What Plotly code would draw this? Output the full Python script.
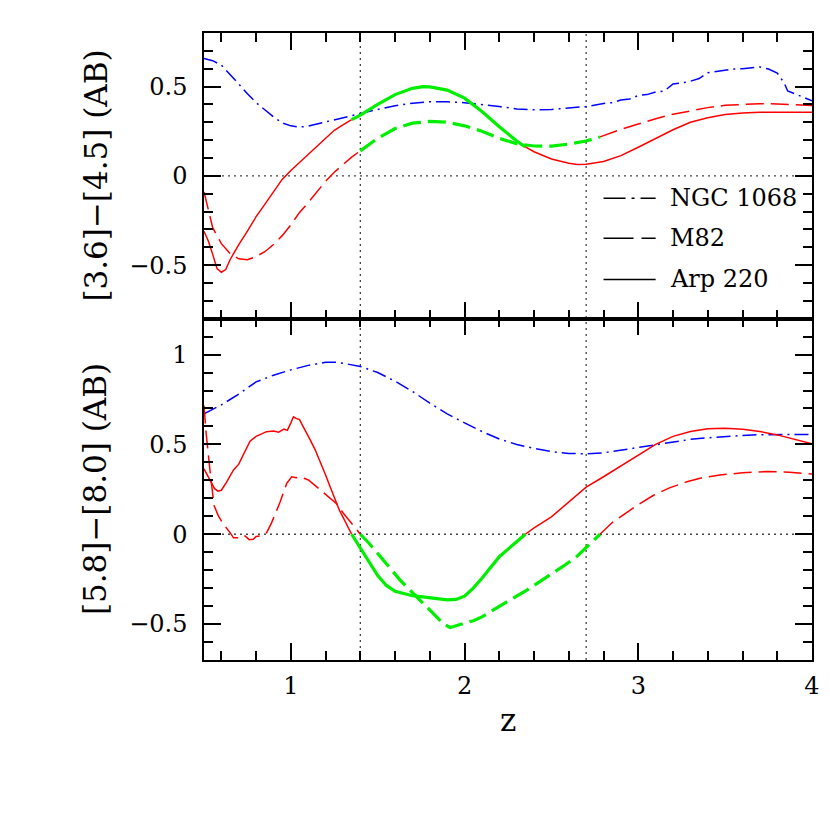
"""Couleurs IRAC en fonction du redshift pour trois galaxies modeles"""
import plotly.graph_objects as go
from plotly.subplots import make_subplots

# ---- panneau du haut : [3.6]-[4.5] ----
z_ngc_top = [0.5, 0.55, 0.6, 0.65, 0.7, 0.75, 0.8, 0.85, 0.9, 0.95, 1.0, 1.05, 1.1, 1.15, 1.2,
             1.3, 1.4, 1.5, 1.6, 1.7, 1.8, 1.9, 2.0, 2.1, 2.2, 2.3, 2.4, 2.5, 2.6, 2.7, 2.8,
             2.85, 2.9, 2.95, 3.0, 3.05, 3.1, 3.15, 3.2, 3.25, 3.3, 3.35, 3.4, 3.45, 3.5,
             3.55, 3.6, 3.65, 3.7, 3.75, 3.8, 3.84, 3.86, 3.9, 3.95, 4.0]
ngc_top = [0.658, 0.645, 0.62, 0.57, 0.515, 0.46, 0.41, 0.37, 0.33, 0.297, 0.28, 0.273, 0.278,
           0.29, 0.302, 0.325, 0.35, 0.372, 0.392, 0.407, 0.415, 0.415, 0.41, 0.4, 0.388,
           0.375, 0.37, 0.372, 0.378, 0.388, 0.405, 0.41, 0.425, 0.43, 0.45, 0.455, 0.47,
           0.475, 0.515, 0.52, 0.53, 0.545, 0.578, 0.585, 0.595, 0.598, 0.6, 0.605, 0.61,
           0.598, 0.576, 0.52, 0.475, 0.46, 0.44, 0.42]

z_m82_top = [0.5, 0.525, 0.55, 0.6, 0.65, 0.7, 0.75, 0.8, 0.85, 0.9, 0.95, 1.0, 1.05, 1.1, 1.15,
             1.2, 1.25, 1.3, 1.35, 1.4, 1.5, 1.6, 1.7, 1.8, 1.9, 2.0, 2.1, 2.2, 2.3, 2.4, 2.5,
             2.6, 2.7, 2.78, 2.9, 3.0, 3.1, 3.2, 3.3, 3.4, 3.5, 3.6, 3.7, 3.8, 3.9, 4.0]
m82_top = [-0.09, -0.19, -0.29, -0.38, -0.435, -0.465, -0.47, -0.452, -0.425, -0.385, -0.335,
           -0.275, -0.205, -0.15, -0.09, -0.03, 0.02, 0.065, 0.105, 0.14, 0.21, 0.265, 0.295,
           0.305, 0.3, 0.28, 0.25, 0.21, 0.18, 0.167, 0.166, 0.178, 0.195, 0.218, 0.26, 0.29,
           0.32, 0.345, 0.365, 0.382, 0.395, 0.401, 0.404, 0.403, 0.399, 0.394]

z_arp_top = [0.5, 0.525, 0.55, 0.575, 0.6, 0.625, 0.65, 0.7, 0.75, 0.8, 0.85, 0.9, 0.95, 1.0,
             1.05, 1.1, 1.15, 1.2, 1.25, 1.3, 1.35, 1.4, 1.5, 1.6, 1.7, 1.76, 1.8, 1.9, 2.0,
             2.1, 2.2, 2.3, 2.35, 2.4, 2.5, 2.6, 2.65, 2.7, 2.8, 2.9, 3.0, 3.1, 3.2, 3.3, 3.4,
             3.5, 3.6, 3.7, 3.8, 3.9, 4.0]
arp_top = [-0.31, -0.365, -0.44, -0.52, -0.54, -0.525, -0.47, -0.385, -0.31, -0.228, -0.16,
           -0.092, -0.02, 0.03, 0.075, 0.12, 0.165, 0.215, 0.255, 0.285, 0.315, 0.34, 0.4,
           0.455, 0.49, 0.5, 0.498, 0.48, 0.435, 0.36, 0.275, 0.195, 0.162, 0.135, 0.094,
           0.07, 0.064, 0.065, 0.08, 0.113, 0.16, 0.21, 0.258, 0.3, 0.325, 0.343, 0.352,
           0.356, 0.357, 0.357, 0.356]

# ---- panneau du bas : [5.8]-[8.0] ----
z_ngc_bot = [0.5, 0.6, 0.7, 0.8, 0.9, 1.0, 1.1, 1.2, 1.25, 1.3, 1.4, 1.5, 1.6, 1.7, 1.8, 1.9,
             2.0, 2.1, 2.2, 2.3, 2.4, 2.5, 2.6, 2.7, 2.8, 2.9, 3.0, 3.1, 3.2, 3.3, 3.4, 3.5,
             3.6, 3.7, 3.8, 3.9, 4.0]
ngc_bot = [0.67, 0.72, 0.78, 0.848, 0.885, 0.915, 0.94, 0.957, 0.958, 0.952, 0.934, 0.9,
           0.852, 0.795, 0.73, 0.67, 0.62, 0.572, 0.53, 0.5, 0.478, 0.46, 0.45, 0.447, 0.453,
           0.468, 0.484, 0.502, 0.517, 0.528, 0.537, 0.545, 0.55, 0.554, 0.556, 0.556, 0.556]

z_m82_bot = [0.5, 0.512, 0.535, 0.558, 0.582, 0.611, 0.65, 0.67, 0.7, 0.72, 0.736, 0.76, 0.784,
             0.8, 0.823, 0.861, 0.89, 0.938, 0.976, 1.005, 1.03, 1.053, 1.08, 1.101, 1.149,
             1.207, 1.263, 1.3, 1.35, 1.4, 1.45, 1.514, 1.57, 1.629, 1.69, 1.744, 1.8, 1.84,
             1.88, 1.917, 1.95, 2.0, 2.051, 2.1, 2.205, 2.28, 2.359, 2.44, 2.512, 2.58, 2.647,
             2.71, 2.78, 2.85, 2.935, 3.0, 3.088, 3.18, 3.28, 3.37, 3.47, 3.6, 3.741, 3.87, 4.0]
m82_bot = [0.716, 0.566, 0.349, 0.16, 0.104, 0.057, 0.009, -0.02, -0.019, -0.005, -0.01, -0.03,
           -0.028, -0.012, -0.01, 0.009, 0.066, 0.179, 0.283, 0.32, 0.315, 0.32, 0.31, 0.302,
           0.264, 0.217, 0.17, 0.12, 0.06, 0.0, -0.05, -0.123, -0.19, -0.255, -0.315, -0.368,
           -0.42, -0.462, -0.5, -0.519, -0.51, -0.495, -0.481, -0.46, -0.396, -0.355, -0.311,
           -0.26, -0.217, -0.17, -0.123, -0.065, 0.0, 0.065, 0.122, 0.165, 0.217, 0.258,
           0.292, 0.315, 0.33, 0.342, 0.349, 0.345, 0.336]

z_arp_bot = [0.5, 0.52, 0.54, 0.56, 0.58, 0.6, 0.63, 0.67, 0.7, 0.73, 0.765, 0.8, 0.83, 0.86,
             0.9, 0.93, 0.96, 0.98, 1.0, 1.015, 1.03, 1.05, 1.07, 1.09, 1.11, 1.14, 1.17, 1.2,
             1.23, 1.26, 1.28, 1.3, 1.33, 1.35, 1.4, 1.45, 1.5, 1.55, 1.6, 1.7, 1.8, 1.9, 1.95,
             2.0, 2.05, 2.1, 2.2, 2.3, 2.35, 2.4, 2.5, 2.6, 2.7, 2.8, 2.9, 3.0, 3.1, 3.2, 3.3,
             3.4, 3.5, 3.6, 3.7, 3.8, 3.9, 4.0]
arp_bot = [0.364, 0.33, 0.29, 0.255, 0.24, 0.245, 0.29, 0.358, 0.39, 0.45, 0.518, 0.545, 0.56,
           0.571, 0.575, 0.568, 0.585, 0.578, 0.62, 0.654, 0.645, 0.638, 0.6, 0.56, 0.528,
           0.47, 0.405, 0.33, 0.255, 0.18, 0.132, 0.095, 0.04, 0.0, -0.075, -0.15, -0.23,
           -0.285, -0.318, -0.342, -0.355, -0.365, -0.363, -0.345, -0.3, -0.245, -0.125,
           -0.04, 0.0, 0.035, 0.097, 0.18, 0.262, 0.32, 0.38, 0.44, 0.5, 0.545, 0.572,
           0.587, 0.59, 0.584, 0.572, 0.553, 0.53, 0.504]

# intervalle ou [5.8]-[8.0] < 0 (trace en vert)
green_arp = (1.35, 2.35)
green_m82 = (1.4, 2.78)

legend_names = ["NGC 1068", "M82", "Arp 220"]
legend_y = [-0.125, -0.35, -0.58]

for zz, yy in [(z_ngc_top, ngc_top), (z_m82_top, m82_top), (z_arp_top, arp_top),
               (z_ngc_bot, ngc_bot), (z_m82_bot, m82_bot), (z_arp_bot, arp_bot)]:
    assert len(zz) == len(yy)

DASH_NGC = "14px,5px,2px,5px"
DASH_M82 = "18px,7px"
SERIF = "DejaVu Serif"


def split_green(z, y, lo, hi):
    """Decoupe une courbe en morceaux rouge / vert / rouge"""
    parts = []
    before = [(a, b) for a, b in zip(z, y) if a <= lo]
    inside = [(a, b) for a, b in zip(z, y) if lo <= a <= hi]
    after = [(a, b) for a, b in zip(z, y) if a >= hi]
    for seg, col, w in [(before, "red", 1.5), (inside, "#00ee00", 3.2), (after, "red", 1.5)]:
        if len(seg) > 1:
            parts.append(([p[0] for p in seg], [p[1] for p in seg], col, w))
    return parts


fig = make_subplots(rows=2, cols=1, shared_xaxes=True, vertical_spacing=0,
                    row_heights=[0.4556, 0.5444])

panels = [
    (1, (z_ngc_top, ngc_top), (z_m82_top, m82_top), (z_arp_top, arp_top)),
    (2, (z_ngc_bot, ngc_bot), (z_m82_bot, m82_bot), (z_arp_bot, arp_bot)),
]

for row, ngc, m82, arp in panels:
    fig.add_trace(go.Scatter(x=ngc[0], y=ngc[1], mode="lines",
                             line=dict(color="blue", width=1.5, dash=DASH_NGC)),
                  row=row, col=1)
    for zs, ys, col, w in split_green(m82[0], m82[1], *green_m82):
        fig.add_trace(go.Scatter(x=zs, y=ys, mode="lines",
                                 line=dict(color=col, width=w, dash=DASH_M82)),
                      row=row, col=1)
    for zs, ys, col, w in split_green(arp[0], arp[1], *green_arp):
        fig.add_trace(go.Scatter(x=zs, y=ys, mode="lines",
                                 line=dict(color=col, width=w)),
                      row=row, col=1)

# lignes pointillees de reference
dotted = dict(color="#444", width=1.3, dash="2px,4px")
for zv in [1.4, 2.7]:
    fig.add_shape(type="line", xref="x", yref="paper", x0=zv, x1=zv, y0=0, y1=1,
                  line=dotted, layer="below")
for yref in ["y", "y2"]:
    fig.add_shape(type="line", xref="x domain", yref=yref, x0=0, x1=1, y0=0, y1=0,
                  line=dotted, layer="below")

# legende dessinee a la main
for name, yl, dash in zip(legend_names, legend_y, ["22px,6px,3px,6px", "30px,8px", "solid"]):
    fig.add_shape(type="line", xref="x", yref="y", x0=2.8, x1=3.1, y0=yl, y1=yl,
                  line=dict(color="black", width=1.5, dash=dash))
    fig.add_annotation(x=3.17, y=yl, xref="x", yref="y", text=name, showarrow=False,
                       xanchor="left", yanchor="middle",
                       font=dict(family=SERIF, size=24, color="black"))

# titres des axes
fig.add_annotation(x=-0.178, y=0.5, xref="paper", yref="y domain", text="[3.6]−[4.5] (AB)",
                   textangle=-90, showarrow=False, xanchor="center", yanchor="middle",
                   font=dict(family=SERIF, size=31, color="black"))
fig.add_annotation(x=-0.178, y=0.5, xref="paper", yref="y2 domain", text="[5.8]−[8.0] (AB)",
                   textangle=-90, showarrow=False, xanchor="center", yanchor="middle",
                   font=dict(family=SERIF, size=31, color="black"))
fig.add_annotation(x=0.5, y=-0.096, xref="x domain", yref="paper", text="z",
                   showarrow=False, xanchor="center", yanchor="middle",
                   font=dict(family=SERIF, size=31, color="black"))

axis_style = dict(showline=True, linecolor="black", linewidth=1.5, mirror="allticks",
                  ticks="inside", ticklen=17, tickwidth=1.5, tickcolor="black",
                  showgrid=False, zeroline=False,
                  tickfont=dict(family=SERIF, size=24, color="black"))

fig.update_xaxes(range=[0.5, 4], tickmode="linear", tick0=0, dtick=1,
                 minor=dict(ticks="inside", ticklen=9, tickwidth=1.5, tickcolor="black",
                            tick0=0, dtick=0.2, showgrid=False),
                 ticklabelstandoff=3, **axis_style)
fig.update_xaxes(showticklabels=False, row=1, col=1)

fig.update_yaxes(tickmode="linear", tick0=0, dtick=0.5,
                 minor=dict(ticks="inside", ticklen=9, tickwidth=1.5, tickcolor="black",
                            tick0=0, dtick=0.1, showgrid=False),
                 ticklabelstandoff=10, **axis_style)
fig.update_yaxes(range=[-0.8, 0.8], row=1, col=1)
fig.update_yaxes(range=[-0.7, 1.2], row=2, col=1)

# la page html ajoute une marge de 8 px autour de la figure
fig.update_layout(
    width=822, height=822,
    margin=dict(l=196, r=10, t=25, b=170),
    showlegend=False,
    plot_bgcolor="white",
    paper_bgcolor="white",
)

fig.write_html("out.html")
